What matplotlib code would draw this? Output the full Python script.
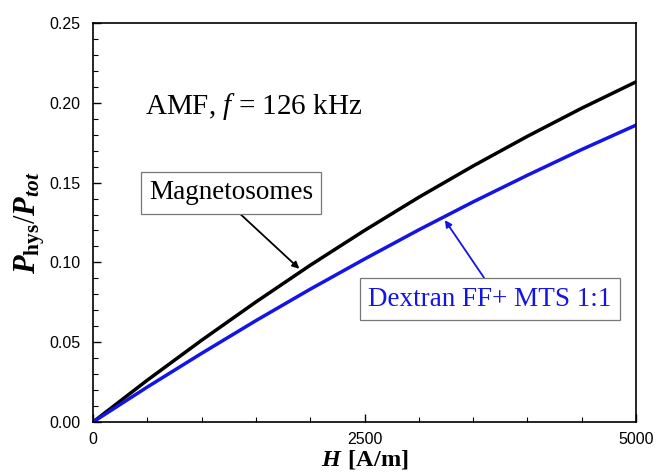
import matplotlib
matplotlib.use("Agg")
import matplotlib.pyplot as plt
from matplotlib.ticker import MultipleLocator

plt.rcParams['mathtext.fontset'] = 'custom'
plt.rcParams['mathtext.rm'] = 'Liberation Serif'
plt.rcParams['mathtext.it'] = 'Liberation Serif:italic'
plt.rcParams['mathtext.bf'] = 'Liberation Serif:bold'
plt.rcParams['mathtext.bfit'] = 'Liberation Serif:bold:italic'

# field amplitude H [A/m]
field = [0, 500, 1000, 1500, 2000, 2500, 3000, 3500, 4000, 4500, 5000]
# hysteresis share of the total power
magnetosomes = [0.0, 0.0262, 0.0512, 0.0752, 0.0982, 0.1200, 0.1408,
                0.1604, 0.1790, 0.1966, 0.2131]
dextran_mts = [0.0, 0.0219, 0.0430, 0.0635, 0.0832, 0.1021, 0.1204,
               0.1379, 0.1546, 0.1707, 0.1860]

fig = plt.figure(figsize=(6.56, 4.75), dpi=100)
ax = fig.add_axes([0.1418, 0.1116, 0.8277, 0.84])

ax.plot(field, magnetosomes, color='black', lw=2.5)
ax.plot(field, dextran_mts, color='#1414e6', lw=2.5)

ax.set_xlim(0, 5000)
ax.set_ylim(0, 0.25)
ax.xaxis.set_major_locator(MultipleLocator(2500))
ax.xaxis.set_minor_locator(MultipleLocator(500))
ax.yaxis.set_major_locator(MultipleLocator(0.05))
ax.yaxis.set_minor_locator(MultipleLocator(0.01))
ax.yaxis.set_major_formatter(plt.FormatStrFormatter('%.2f'))
ax.tick_params(which='both', direction='in', top=False, right=False)
ax.tick_params(which='major', length=6, width=1)
ax.tick_params(which='minor', length=3.5, width=0.8)
ax.tick_params(axis='y', which='major', pad=9)
ax.tick_params(axis='x', which='major', pad=7)
for lab in ax.get_xticklabels() + ax.get_yticklabels():
    lab.set_fontfamily('Liberation Sans')
    lab.set_fontsize(11.5)
for sp in ax.spines.values():
    sp.set_linewidth(1.2)

ax.set_xlabel(r'$\mathbfit{H}$ $\mathbf{[A/m]}$', fontsize=17.5, labelpad=0)
ax.set_ylabel(r'$\mathbfit{P}_{\mathbf{hys}}/\mathbfit{P}_{\mathbfit{tot}}$',
              fontsize=22, labelpad=2)

ax.text(0.095, 0.79, r'AMF, $\mathit{f}$ = 126 kHz', transform=ax.transAxes,
        fontfamily='Liberation Serif', fontsize=21, va='center')

box = dict(boxstyle='square,pad=0.3', fc='white', ec='#777777', lw=0.9)
ax.annotate('Magnetosomes', xy=(1900, 0.096), xytext=(1271, 0.1435),
            fontfamily='Liberation Serif', fontsize=19.5, ha='center', va='center',
            bbox=box,
            arrowprops=dict(arrowstyle='-|>', color='black', lw=1.3,
                            mutation_scale=10, shrinkA=0, shrinkB=0,
                            relpos=(0.5, 0)))
ax.annotate('Dextran FF+ MTS 1:1', xy=(3240, 0.1265), xytext=(3656, 0.077),
            fontfamily='Liberation Serif', fontsize=19.5, ha='center', va='center',
            color='#1414e6', bbox=box,
            arrowprops=dict(arrowstyle='-|>', color='#1414e6', lw=1.3,
                            mutation_scale=10, shrinkA=0, shrinkB=0,
                            relpos=(0.5, 1)))

fig.savefig('out.png', dpi=100)
